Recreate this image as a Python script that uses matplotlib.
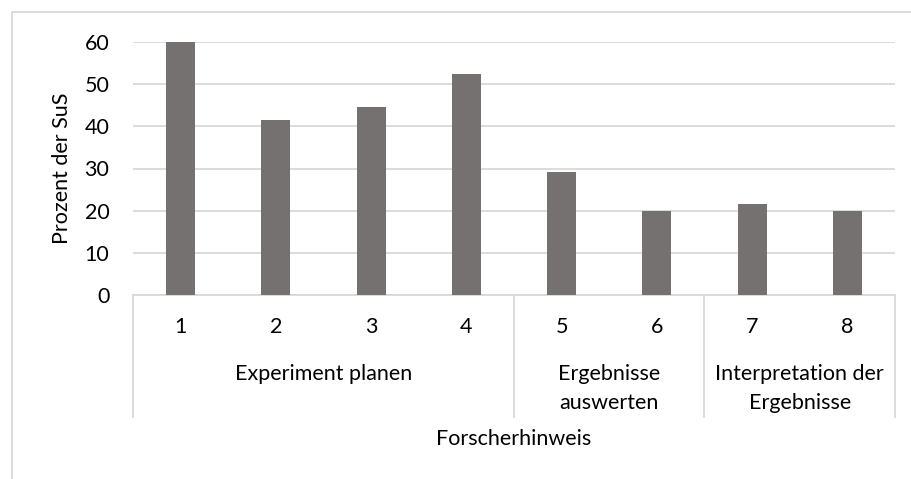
import matplotlib
matplotlib.use("Agg")
from matplotlib import pyplot as plt
from matplotlib.patches import Rectangle

# data
hints = ['1', '2', '3', '4', '5', '6', '7', '8']
share = [60, 41.5, 44.6, 52.3, 29.2, 20, 21.5, 20]
groups = ['Experiment planen', 'Ergebnisse\nauswerten', 'Interpretation der\nErgebnisse']
group_sizes = [4, 2, 2]

plt.rcParams['font.family'] = ['Lato', 'DejaVu Sans']
W, H = 912, 479
fig = plt.figure(figsize=(W / 100, H / 100), dpi=100)

# plot area in pixels
left, right, top, base = 133, 895, 42, 295
ax = fig.add_axes([left / W, 1 - base / H, (right - left) / W, (base - top) / H])

grid_col = '#D9D9D9'
bar_col = '#767171'
fs = 15.5

x = list(range(len(hints)))
ax.bar(x, share, width=0.305, color=bar_col, zorder=3)

ax.set_xlim(-0.5, len(hints) - 0.5)
ax.set_ylim(0, 60)
ax.set_yticks(range(0, 61, 10))
ax.yaxis.grid(True, color=grid_col, lw=1.3, zorder=0)
ax.tick_params(axis='y', length=0, pad=17, labelsize=fs)
ax.set_xticks([])
for s in ['top', 'right', 'left']:
    ax.spines[s].set_visible(False)
ax.spines['bottom'].set_color(grid_col)
ax.spines['bottom'].set_linewidth(1.3)

ph = base - top


def below(px):
    # pixels below the axis line -> axes fraction
    return -px / ph


tr = ax.get_xaxis_transform()
for xi, lab in zip(x, hints):
    ax.text(xi, below(32), lab, transform=tr, ha='center', va='center', fontsize=fs)

# group labels (top aligned, one text per line) and separators
start = 0
bounds = [-0.5]
for name, n in zip(groups, group_sizes):
    mid = start + (n - 1) / 2
    for k, line in enumerate(name.split('\n')):
        ax.text(mid, below(79 + 29 * k), line, transform=tr, ha='center',
                va='center', fontsize=fs)
    start += n
    bounds.append(start - 0.5)
for b in bounds:
    ax.plot([b, b], [0, below(122)], transform=tr, color=grid_col, lw=1.3,
            clip_on=False)

ax.text(0.5, below(144), 'Forscherhinweis', transform=ax.transAxes,
        ha='center', va='center', fontsize=fs)
fig.text(62 / W, 1 - 168 / H, 'Prozent der SuS', rotation=90,
         ha='center', va='center', fontsize=fs)

# chart border
fig.patches.append(Rectangle((12 / W, -0.2), 1.2, 1.2 - 12 / H,
                             transform=fig.transFigure, fill=False,
                             edgecolor=grid_col, lw=1.3))

fig.savefig('out.png', dpi=100)
